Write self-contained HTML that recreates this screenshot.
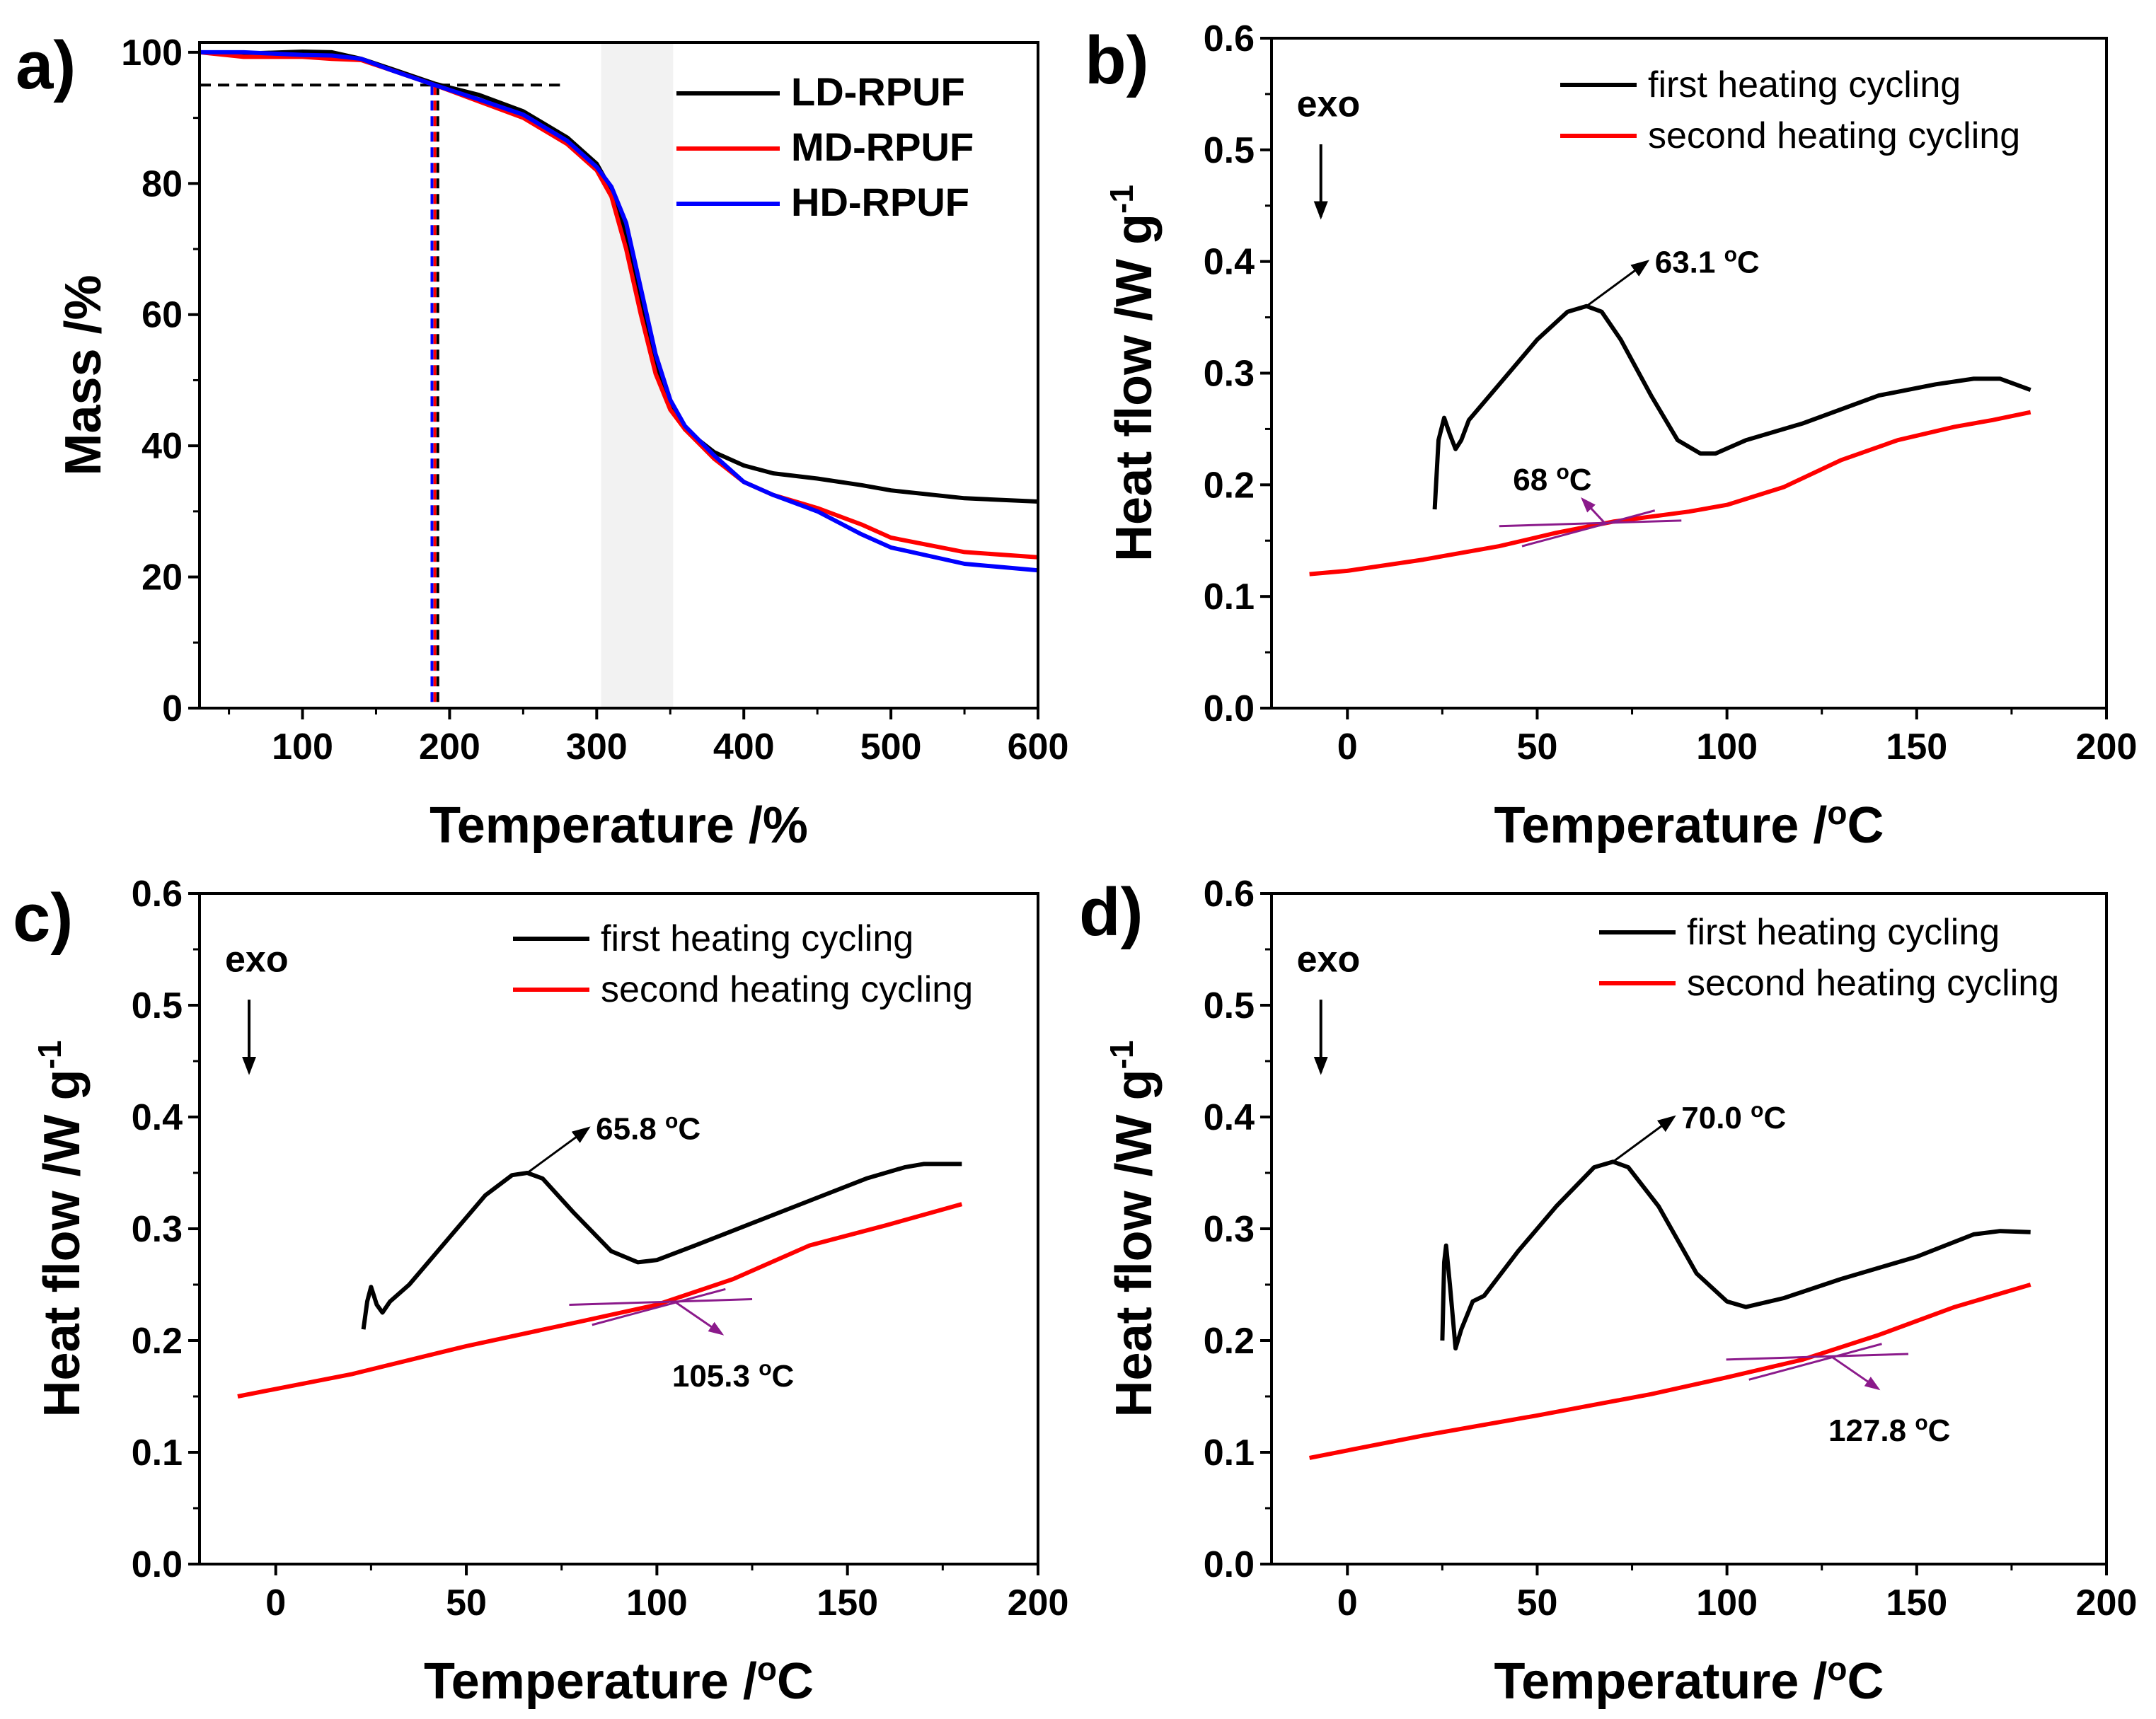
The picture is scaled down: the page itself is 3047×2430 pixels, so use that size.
<!DOCTYPE html>
<html><head><meta charset="utf-8"><style>
html,body{margin:0;padding:0;background:#fff}
svg{display:block}
text{font-family:"Liberation Sans",Arial,sans-serif}
</style></head><body>
<svg id="fig" width="3047" height="2430" viewBox="0 0 3047 2430" xmlns="http://www.w3.org/2000/svg"></svg>
<script>
// ---------- Panel a data ----------
const tgaLD = [[30,100],[60,99.8],[100,100.1],[120,100],[140,99],[160,97.5],[190,95.2],[220,93.5],[250,91],[280,87],[300,83],[310,79],[320,72],[330,62],[340,52],[350,46],[360,42.5],[380,39],[400,37],[420,35.8],[450,35],[480,34],[500,33.2],[550,32],[600,31.5]];
const tgaMD = [[30,100],[60,99.3],[100,99.3],[120,99],[140,98.8],[160,97.3],[190,95],[220,92.5],[250,90],[280,86],[300,82],[310,78],[320,70],[330,60],[340,51],[350,45.5],[360,42.5],[380,38],[400,34.5],[420,32.5],[450,30.5],[480,28],[500,26],[550,23.8],[600,23]];
const tgaHD = [[30,100],[60,100],[100,99.6],[120,99.5],[140,99],[160,97.3],[190,95],[220,92.8],[250,90.5],[280,86.5],[300,82.5],[310,79.5],[320,74],[330,64],[340,54],[350,47],[360,43],[380,38.5],[400,34.5],[420,32.5],[450,30],[480,26.5],[500,24.5],[550,22],[600,21]];
const aXTicks = [100,200,300,400,500,600];
const aYTicks = [0,20,40,60,80,100];
const aOnset = [188,190,192];
// ---------- Panel b data ----------
const bFirst = [[23,0.178],[24,0.24],[25.5,0.26],[27,0.245],[28.5,0.232],[30,0.24],[32,0.258],[40,0.29],[50,0.33],[58,0.355],[63,0.36],[67,0.355],[72,0.33],[80,0.28],[87,0.24],[93,0.228],[97,0.228],[105,0.24],[120,0.255],[140,0.28],[155,0.29],[165,0.295],[172,0.295],[176,0.29],[180,0.285]];
const bSecond = [[-10,0.12],[0,0.123],[20,0.133],[40,0.145],[55,0.157],[70,0.167],[90,0.176],[100,0.182],[115,0.198],[130,0.222],[145,0.24],[160,0.252],[170,0.258],[180,0.265]];
// ---------- Panel c data ----------
const cFirst = [[23,0.21],[24,0.235],[25,0.248],[26.5,0.232],[28,0.225],[30,0.235],[35,0.25],[45,0.29],[55,0.33],[62,0.348],[66,0.35],[70,0.345],[78,0.315],[88,0.28],[95,0.27],[100,0.272],[110,0.285],[125,0.305],[140,0.325],[155,0.345],[165,0.355],[170,0.358],[180,0.358]];
const cSecond = [[-10,0.15],[20,0.17],[50,0.195],[80,0.217],[100,0.232],[120,0.255],[140,0.285],[160,0.303],[180,0.322]];
// ---------- Panel d data ----------
const dFirst = [[25,0.2],[25.5,0.27],[26,0.285],[27,0.25],[28.5,0.193],[30,0.21],[33,0.235],[36,0.24],[45,0.28],[55,0.32],[65,0.355],[70,0.36],[74,0.355],[82,0.32],[92,0.26],[100,0.235],[105,0.23],[115,0.238],[130,0.255],[150,0.275],[165,0.295],[172,0.298],[180,0.297]];
const dSecond = [[-10,0.095],[20,0.115],[50,0.133],[80,0.152],[100,0.167],[120,0.183],[140,0.205],[160,0.23],[180,0.25]];
const dscXTicks = [0,50,100,150,200];
const dscYTicks = [0,0.1,0.2,0.3,0.4,0.5,0.6];

const NS="http://www.w3.org/2000/svg";
const svg=document.getElementById('fig');
function el(tag,attrs,parent,txt){const e=document.createElementNS(NS,tag);for(const k in attrs)e.setAttribute(k,attrs[k]);if(txt!==undefined)e.textContent=txt;(parent||svg).appendChild(e);return e;}

function panel(o){
  const g=el('g',{});
  
  
  const X=v=>o.L+(v-o.x0)/(o.x1-o.x0)*(o.R-o.L);
  const Y=v=>o.B-(v-o.y0)/(o.y1-o.y0)*(o.B-o.T);
  o.X=X;o.Y=Y;o.g=g;
  if(o.before)o.before(o);
  o.series.forEach(s=>{
    const p=el('path',{d:s.data.map((d,i)=>(i?'L':'M')+X(d[0]).toFixed(1)+','+Y(d[1]).toFixed(1)).join(''),fill:'none',stroke:s.color,'stroke-width':6,'stroke-linejoin':'round'},g);
    
    
  });
  const fr=el('rect',{x:o.L,y:o.T,width:o.R-o.L,height:o.B-o.T,fill:'none',stroke:'#000','stroke-width':4},g);
  
  
  o.xTicks.forEach(v=>{
    el('line',{x1:X(v),x2:X(v),y1:o.B,y2:o.B+16,stroke:'#000','stroke-width':4},g);
    const t=el('text',{x:X(v),y:o.B+72,'font-size':52,'font-weight':'bold','text-anchor':'middle'},g,String(v));
    
    
  });
  const xm=o.xMinor;
  for(let v=Math.ceil(o.x0/xm)*xm;v<=o.x1;v+=xm){el('line',{x1:X(v),x2:X(v),y1:o.B,y2:o.B+9,stroke:'#000','stroke-width':3},g);}
  o.yTicks.forEach(v=>{
    el('line',{x1:o.L-16,x2:o.L,y1:Y(v),y2:Y(v),stroke:'#000','stroke-width':4},g);
    const t=el('text',{x:o.L-24,y:Y(v)+18,'font-size':52,'font-weight':'bold','text-anchor':'end'},g,o.yFmt(v));
    
    
  });
  const ym=o.yMinor;
  for(let v=o.y0;v<=o.y1+1e-9;v+=ym){el('line',{x1:o.L-9,x2:o.L,y1:Y(v),y2:Y(v),stroke:'#000','stroke-width':3},g);}
  const xt=el('text',{x:(o.L+o.R)/2,y:o.B+190,'font-size':72,'font-weight':'bold','text-anchor':'middle'},g);
  
  
  xt.innerHTML=o.xTitle;
  const yt=el('text',{transform:`translate(${o.L-o.yTitleOff},${(o.T+o.B)/2}) rotate(-90)`,'font-size':72,'font-weight':'bold','text-anchor':'middle'},g);
  
  
  yt.innerHTML=o.yTitle;
  const pl=el('text',{x:o.letterX,y:o.letterY,'font-size':96,'font-weight':'bold'},g,o.letter);
  
  
  o.series.forEach((s,i)=>{
    const ly=o.legY+i*o.legDy;
    el('line',{x1:o.legX,x2:o.legX+o.legLen,y1:ly,y2:ly,stroke:s.color,'stroke-width':6},g);
    const t=el('text',{x:o.legX+o.legLen+16,y:ly+17,'font-size':o.legFont,'font-weight':o.legBold?'bold':'normal'},g,s.label);
    
    
  });
  if(o.after)o.after(o);
  return o;
}

el('defs',{},svg).innerHTML='<marker id="ahk" markerWidth="26" markerHeight="26" refX="22" refY="13" orient="auto" markerUnits="userSpaceOnUse" viewBox="0 0 26 26"><path d="M0,3 L26,13 L0,23z" fill="#000"/></marker><marker id="ahp" markerWidth="22" markerHeight="22" refX="18" refY="11" orient="auto" markerUnits="userSpaceOnUse" viewBox="0 0 22 22"><path d="M0,3 L22,11 L0,19z" fill="#8b1a8b"/></marker>';

const degT='Temperature /<tspan baseline-shift="super" font-size="46">o</tspan>C';
const hfT='Heat flow /W g<tspan baseline-shift="super" font-size="46">-1</tspan>';

function dscExtras(o,peak,peakLbl,tg,tgLbl,tgUp){
  const {X,Y,g}=o;
  const ex=el('text',{x:X(-5),y:Y(0.53),'font-size':52,'font-weight':'bold','text-anchor':'middle'},g,'exo');
  
  
  el('line',{x1:X(-7),x2:X(-7),y1:Y(0.505),y2:Y(0.44),stroke:'#000','stroke-width':4,'marker-end':'url(#ahk)'},g);
  el('line',{x1:X(peak[0]),y1:Y(peak[1]),x2:X(peak[0]+16),y2:Y(peak[1]+0.04),stroke:'#000','stroke-width':3,'marker-end':'url(#ahk)'},g);
  const pt=el('text',{x:X(peak[0]+18),y:Y(peak[1]+0.03),'font-size':44,'font-weight':'bold'},g);
  
  
  pt.innerHTML=peakLbl+' <tspan baseline-shift="super" font-size="30">o</tspan>C';
  el('line',{x1:X(tg[0]-28),y1:Y(tg[1]-0.002),x2:X(tg[0]+20),y2:Y(tg[1]+0.003),stroke:'#8b1a8b','stroke-width':3},g);
  el('line',{x1:X(tg[0]-22),y1:Y(tg[1]-0.02),x2:X(tg[0]+13),y2:Y(tg[1]+0.012),stroke:'#8b1a8b','stroke-width':3},g);
  const dy=tgUp?0.022:-0.028, dx=tgUp?-6:12;
  el('line',{x1:X(tg[0]),y1:Y(tg[1]),x2:X(tg[0]+dx),y2:Y(tg[1]+dy),stroke:'#8b1a8b','stroke-width':3,'marker-end':'url(#ahp)'},g);
  const tt=el('text',{x:X(tg[0]+(tgUp?-14:15)),y:Y(tg[1]+(tgUp?0.03:-0.075)),'font-size':44,'font-weight':'bold','text-anchor':'middle'},g);
  
  
  tt.innerHTML=tgLbl+' <tspan baseline-shift="super" font-size="30">o</tspan>C';
}

panel({name:'panel-a-tga',L:282,R:1467,T:60,B:1001,x0:30,x1:600,y0:0,y1:101.5,
  xTicks:aXTicks,yTicks:aYTicks,xMinor:50,yMinor:10,yFmt:v=>String(v),yTitleOff:140,
  xTitle:'Temperature /%',yTitle:'Mass /%',letter:'a)',letterX:22,letterY:125,
  series:[{id:'ld-rpuf-line',label:'LD-RPUF',color:'#000',data:tgaLD},{id:'md-rpuf-line',label:'MD-RPUF',color:'#f00',data:tgaMD},{id:'hd-rpuf-line',label:'HD-RPUF',color:'#00f',data:tgaHD}],
  legX:956,legLen:146,legY:132,legDy:78,legFont:56,legBold:true,
  before:o=>{
    const b=el('rect',{x:o.X(303),y:o.T,width:o.X(352)-o.X(303),height:o.B-o.T,fill:'#f2f2f2'},o.g);
    
    
    el('line',{x1:o.X(30),x2:o.X(275),y1:o.Y(95),y2:o.Y(95),stroke:'#000','stroke-width':4,'stroke-dasharray':'16,10'},o.g);
    ['#00f','#f00','#000'].forEach((c,i)=>{
      el('line',{x1:o.X(aOnset[i]),x2:o.X(aOnset[i]),y1:o.Y(95),y2:o.B,stroke:c,'stroke-width':4,'stroke-dasharray':'14,8'},o.g);
    });
  }});

const dscCommon={x0:-20,x1:200,y0:0,y1:0.6,xTicks:dscXTicks,yTicks:dscYTicks,xMinor:25,yMinor:0.05,yFmt:v=>v.toFixed(1),yTitleOff:170,
  xTitle:degT,yTitle:hfT,legLen:108,legDy:72,legFont:52,legBold:false};

panel(Object.assign({},dscCommon,{name:'panel-b-dsc',L:1797,R:2977,T:54,B:1001,letter:'b)',letterX:1533,letterY:118,
  series:[{id:'first-heating-line',label:'first heating cycling',color:'#000',data:bFirst},{id:'second-heating-line',label:'second heating cycling',color:'#f00',data:bSecond}],
  legX:2205,legY:120,after:o=>dscExtras(o,[63,0.36],'63.1',[68,0.165],'68',true)}));

panel(Object.assign({},dscCommon,{name:'panel-c-dsc',L:282,R:1467,T:1263,B:2211,letter:'c)',letterX:18,letterY:1330,
  series:[{id:'first-heating-line',label:'first heating cycling',color:'#000',data:cFirst},{id:'second-heating-line',label:'second heating cycling',color:'#f00',data:cSecond}],
  legX:725,legY:1327,after:o=>dscExtras(o,[66,0.35],'65.8',[105,0.234],'105.3',false)}));

panel(Object.assign({},dscCommon,{name:'panel-d-dsc',L:1797,R:2977,T:1263,B:2211,letter:'d)',letterX:1525,letterY:1322,
  series:[{id:'first-heating-line',label:'first heating cycling',color:'#000',data:dFirst},{id:'second-heating-line',label:'second heating cycling',color:'#f00',data:dSecond}],
  legX:2260,legY:1318,after:o=>dscExtras(o,[70,0.36],'70.0',[127.8,0.185],'127.8',false)}));
</script>
</body></html>
